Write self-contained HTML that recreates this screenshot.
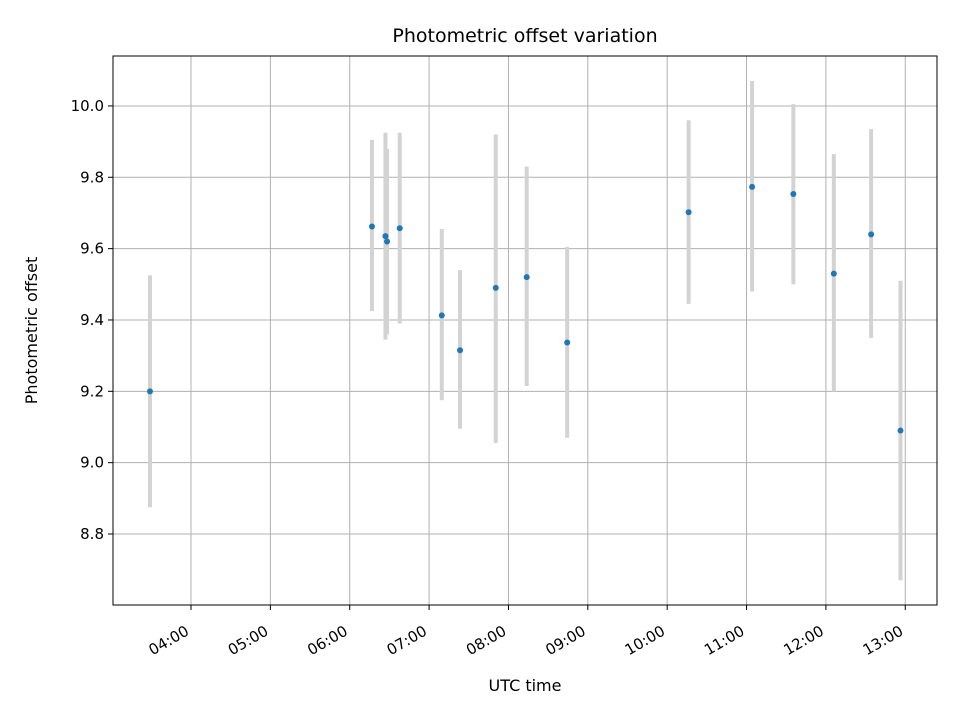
<!DOCTYPE html>
<html><head><meta charset="utf-8"><style>
body{margin:0;background:#fff;}
svg text{font-family:"DejaVu Sans","Liberation Sans",sans-serif;fill:#000;}
</style></head><body>
<svg id="chart" width="960" height="720" xmlns="http://www.w3.org/2000/svg">
<rect width="960" height="720" fill="#fff"/>
<g id="grid"></g><g id="errs"></g><g id="pts"></g><g id="axes"></g>
</svg>
<script>
// times in hours UTC
const times=[3.483,6.28,6.45,6.47,6.63,7.16,7.39,7.84,8.23,8.74,10.27,11.07,11.59,12.10,12.57,12.94];
const offsets=[9.2,9.662,9.635,9.62,9.657,9.413,9.315,9.49,9.52,9.337,9.702,9.773,9.753,9.53,9.64,9.09];
const errLow=[8.875,9.425,9.345,9.36,9.39,9.175,9.095,9.055,9.215,9.07,9.445,9.48,9.5,9.2,9.35,8.67];
const errHigh=[9.525,9.905,9.925,9.88,9.925,9.655,9.54,9.92,9.83,9.605,9.96,10.07,10.005,9.865,9.935,9.51];
const xTicks=[4,5,6,7,8,9,10,11,12,13];
const yTicks=[8.8,9.0,9.2,9.4,9.6,9.8,10.0];

const L=113,R=937,T=56,B=605;
const xMin=3.017,xMax=13.40,yMin=8.601,yMax=10.140;
const X=v=>L+(v-xMin)/(xMax-xMin)*(R-L);
const Y=v=>B-(v-yMin)/(yMax-yMin)*(B-T);
const NS="http://www.w3.org/2000/svg";
function mk(tag,attrs,parent,txt){const e=document.createElementNS(NS,tag);for(const k in attrs)e.setAttribute(k,attrs[k]);if(txt!==undefined)e.textContent=txt;document.getElementById(parent).appendChild(e);return e;}
const pad=n=>String(n).padStart(2,'0')+':00';

xTicks.forEach(t=>{
  const g=mk('line',{x1:X(t),x2:X(t),y1:T,y2:B,stroke:'#b0b0b0','stroke-width':1},'grid');
  
  
  const tk=mk('line',{x1:X(t),x2:X(t),y1:B,y2:B+5,stroke:'#000','stroke-width':1},'axes');
  
  
  const ax=X(t)-1, ay=B+29;
  const lb=mk('text',{x:ax,y:ay,'font-size':15,'text-anchor':'end',transform:`rotate(-30 ${ax} ${ay})`},'axes',pad(t));
  
  
});
yTicks.forEach(t=>{
  const g=mk('line',{x1:L,x2:R,y1:Y(t),y2:Y(t),stroke:'#b0b0b0','stroke-width':1},'grid');
  
  
  const tk=mk('line',{x1:L-5,x2:L,y1:Y(t),y2:Y(t),stroke:'#000','stroke-width':1},'axes');
  
  
  const lb=mk('text',{x:L-9,y:Y(t)+5,'font-size':15,'text-anchor':'end'},'axes',t.toFixed(1));
  
  
});
times.forEach((t,i)=>{
  const e=mk('line',{x1:X(t),x2:X(t),y1:Y(errHigh[i]),y2:Y(errLow[i]),stroke:'#d3d3d3','stroke-width':4},'errs');
  
  
  const p=mk('circle',{cx:X(t),cy:Y(offsets[i]),r:3,fill:'#1f77b4'},'pts');
  
  
});
const fr=mk('rect',{x:L,y:T,width:R-L,height:B-T,fill:'none',stroke:'#000','stroke-width':1},'axes');


const ti=mk('text',{x:(L+R)/2,y:42,'font-size':19,'text-anchor':'middle'},'axes','Photometric offset variation');


const xt=mk('text',{x:(L+R)/2,y:691,'font-size':16,'text-anchor':'middle'},'axes','UTC time');


const yt=mk('text',{x:37,y:(T+B)/2,'font-size':16,'text-anchor':'middle',transform:`rotate(-90 37 ${(T+B)/2})`},'axes','Photometric offset');


</script>
</body></html>
